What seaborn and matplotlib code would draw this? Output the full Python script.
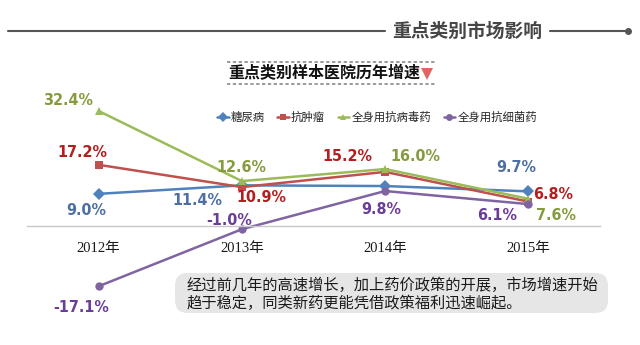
import matplotlib
matplotlib.use("Agg")
import matplotlib.pyplot as plt
from matplotlib.lines import Line2D
from matplotlib.patches import FancyBboxPatch
from matplotlib import font_manager
import seaborn as sns
import pandas as pd

# ---- data ----
years = ["2012年", "2013年", "2014年", "2015年"]
series_names = ["糖尿病", "抗肿瘤", "全身用抗病毒药", "全身用抗细菌药"]
diabetes = [9.0, 11.4, 11.2, 9.7]
oncology = [17.2, 10.9, 15.2, 6.8]
antiviral = [32.4, 12.6, 16.0, 7.6]
antibacterial = [-17.1, -1.0, 9.8, 6.1]

line_colors = ["#4F81BD", "#C0504D", "#9BBB59", "#8064A2"]
label_colors = ["#4E6FA3", "#B51E1E", "#859B3E", "#6A3E98"]
markers = ["D", "s", "^", "o"]

# value labels: (series index, year index, dx px, dy px)
label_offsets = [
    (0, 0, -12, -17), (0, 1, -44, -15), (0, 3, -12, 24),
    (1, 0, -16, 12), (1, 1, 20, -10), (1, 2, -38, 15), (1, 3, 25, 7),
    (2, 0, -31, 11), (2, 1, 0, 14), (2, 2, 30, 13), (2, 3, 28, -17),
    (3, 0, -17, -21), (3, 1, -13, 9), (3, 2, -4, -18), (3, 3, -31, -11),
]

all_values = [diabetes, oncology, antiviral, antibacterial]
rows = []
for name, vals in zip(series_names, all_values):
    for yr, v in zip(years, vals):
        rows.append({"year": yr, "series": name, "value": v})
df = pd.DataFrame(rows)

# ---- style ----
sns.set_theme(style="white")
cjk = "Noto Sans CJK SC"
serif_mix = ["Liberation Serif", cjk]
plt.rcParams["font.family"] = [cjk, "DejaVu Sans"]


def _weight(f):
    w = f.weight
    if isinstance(w, str):
        return font_manager.weight_dict.get(w, 400)
    return w


# a bold, narrow face for the percentage labels, if one is installed
num_font, num_stretch = None, "normal"
for f in font_manager.fontManager.ttflist:
    st = f.stretch if isinstance(f.stretch, str) else ""
    narrow = ("Narrow" in f.name or "Condensed" in f.name or "condensed" in st)
    if narrow and _weight(f) >= 600:
        num_font = f.name
        num_stretch = st if "condensed" in st else "normal"
        break
if num_font is None:
    num_font = "Roboto"
num_size = 11.5 if num_font != "Roboto" else 10.5

W, H = 640, 345
fig = plt.figure(figsize=(W / 100, H / 100), dpi=100)
fig.patch.set_facecolor("white")


def fx(x):
    return x / W


def fy(y):
    return 1 - y / H


# axes geometry: zero line at y=225.7 px, 3.54 px per percent
ymin, ymax = -25, 35
ppu = 3.54
zero_px = 225.7
top_px = zero_px - ymax * ppu
bot_px = zero_px - ymin * ppu
ax = fig.add_axes([fx(27), fy(bot_px), 573 / W, (bot_px - top_px) / H])
ax.patch.set_alpha(0)

palette = dict(zip(series_names, line_colors))
marker_map = dict(zip(series_names, markers))
sns.lineplot(data=df, x="year", y="value", hue="series", style="series",
             hue_order=series_names, style_order=series_names,
             palette=palette, markers=marker_map, dashes=False,
             markersize=6, linewidth=1.8, markeredgewidth=0,
             sort=False, ax=ax, legend=False)

ax.set_xlim(-0.5, 3.5)
ax.set_ylim(ymin, ymax)
for s in ["top", "right", "left"]:
    ax.spines[s].set_visible(False)
ax.spines["bottom"].set_position(("data", 0))
ax.spines["bottom"].set_color("#c8c8c8")
ax.spines["bottom"].set_linewidth(1.0)
ax.set_yticks([])
ax.set_xlabel("")
ax.set_ylabel("")
ax.set_xticks(range(len(years)))
ax.set_xticklabels(years, family=serif_mix, fontsize=10.5, color="#1a1a1a")
ax.tick_params(axis="x", which="major", length=0, pad=12)
ax.set_xticks([0.5, 1.5, 2.5], minor=True)
ax.tick_params(axis="x", which="minor", length=4, width=1, color="#c8c8c8",
               direction="out")
ax.grid(False)

# value labels
for s, yi, dx, dy in label_offsets:
    v = all_values[s][yi]
    ax.annotate(f"{v:.1f}%", xy=(yi, v), xytext=(dx, dy),
                textcoords="offset pixels", ha="center", va="center",
                fontsize=num_size, fontweight="bold", family=num_font,
                fontstretch=num_stretch, color=label_colors[s])

# legend
handles = [Line2D([], [], color=c, marker=m, markersize=5, linewidth=1.8,
                  markeredgewidth=0)
           for c, m in zip(line_colors, markers)]
fig.legend(handles, series_names, loc="center", ncol=4,
           bbox_to_anchor=(fx(377), fy(117)), frameon=False,
           handlelength=1.0, handletextpad=0.2, columnspacing=1.1,
           prop={"family": cjk, "size": 8.2})

# header with rule lines
fig.text(fx(467), fy(31), "重点类别市场影响", ha="center", va="center",
         fontsize=13.5, fontweight="bold", color="#454545")
fig.add_artist(Line2D([fx(8), fx(385)], [fy(30.5), fy(30.5)],
                      color="#555555", lw=1.5))
fig.add_artist(Line2D([fx(550), fx(628)], [fy(30.5), fy(30.5)],
                      color="#555555", lw=1.5))
fig.add_artist(Line2D([fx(628)], [fy(30.5)], marker="o", markersize=4,
                      color="#555555"))

# sub-heading between dashed rules
fig.text(fx(228), fy(73), "重点类别样本医院历年增速", ha="left",
         va="center", fontsize=11.5, fontweight="bold", color="#111111")
fig.add_artist(Line2D([fx(427)], [fy(74)], marker="v", markersize=9,
                      color="#E06464", markeredgewidth=0))
for yy in (62, 84):
    fig.add_artist(Line2D([fx(227), fx(435)], [fy(yy), fy(yy)],
                          color="#8a8a8a", lw=1.2, linestyle=(0, (2, 1.5))))

# commentary box
box = FancyBboxPatch((fx(175), fy(313)), fx(608) - fx(175), fy(273) - fy(313),
                     boxstyle="round,pad=0,rounding_size=0.02",
                     transform=fig.transFigure, facecolor="#e6e6e6",
                     edgecolor="none", mutation_aspect=W / H)
fig.add_artist(box)
fig.text(fx(187), fy(285), "经过前几年的高速增长，加上药价政策的开展，市场增速开始",
         ha="left", va="center", fontsize=11, color="#1a1a1a")
fig.text(fx(187), fy(303), "趋于稳定，同类新药更能凭借政策福利迅速崛起。",
         ha="left", va="center", fontsize=11, color="#1a1a1a")

fig.savefig("out.png", dpi=100)
